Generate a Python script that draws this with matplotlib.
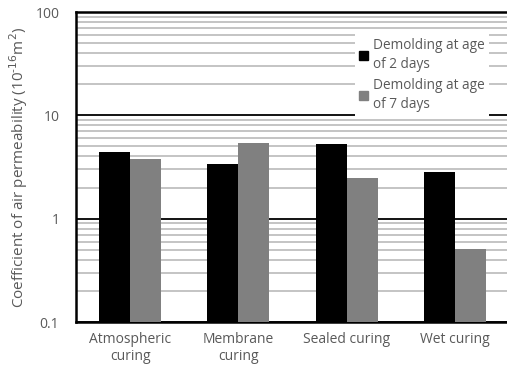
import matplotlib
matplotlib.use("Agg")
import matplotlib.pyplot as plt
import numpy as np
from matplotlib.patches import Rectangle
from matplotlib.ticker import LogLocator, FixedLocator, FixedFormatter, NullFormatter

categories = ["Atmospheric\ncuring", "Membrane\ncuring", "Sealed curing", "Wet curing"]
demold_2_days = [4.45, 3.4, 5.3, 2.85]
demold_7_days = [3.8, 5.4, 2.45, 0.51]
series_labels = ["Demolding at age\nof 2 days", "Demolding at age\nof 7 days"]
y_ticks = [0.1, 1, 10, 100]
y_tick_labels = ["0.1", "1", "10", "100"]

plt.rcParams["font.family"] = ["Open Sans", "DejaVu Sans"]
text_color = "#595959"

W, H = 507, 371
fig = plt.figure(figsize=(W / 100, H / 100), dpi=100)
left, right, top, bottom = 76, 509, 12, 322
ax = fig.add_axes([left / W, 1 - bottom / H, (right - left) / W, (bottom - top) / H])

x = np.arange(len(categories))
bw = 0.286
ax.bar(x - bw / 2, demold_2_days, width=bw, color="black", zorder=3)
ax.bar(x + bw / 2, demold_7_days, width=bw, color="#808080", zorder=3)

ax.set_yscale("log")
ax.set_ylim(0.1, 100)
ax.set_xlim(-0.5, len(categories) - 0.5)

ax.yaxis.set_major_locator(FixedLocator(y_ticks))
ax.yaxis.set_major_formatter(FixedFormatter(y_tick_labels))
ax.yaxis.set_minor_locator(LogLocator(base=10, subs=np.arange(2, 10)))
ax.yaxis.set_minor_formatter(NullFormatter())
ax.grid(which="minor", axis="y", color="#bfbfbf", linewidth=1.3, zorder=1)
ax.grid(which="major", axis="y", color="black", linewidth=1.3, zorder=1)

ax.tick_params(axis="y", which="both", length=0, labelsize=10, labelcolor=text_color, pad=12)
ax.tick_params(axis="x", length=0, labelsize=10, labelcolor=text_color, pad=7)
ax.set_xticks(x)
ax.set_xticklabels(categories, linespacing=1.25)

for side in ["left", "bottom", "top"]:
    ax.spines[side].set_linewidth(1.8)
    ax.spines[side].set_color("black")
ax.spines["right"].set_visible(False)

ax.set_ylabel("Coefficient of air permeability (10$^{\\text{-}16}$m$^{2}$)",
              fontsize=11, color=text_color, labelpad=4)

handles = [Rectangle((0, 0), 1, 1, color="black"), Rectangle((0, 0), 1, 1, color="#808080")]
leg = ax.legend(handles, series_labels, loc="upper left",
                bbox_to_anchor=((348 - left) / (right - left), 1 - (27 - top) / (bottom - top)),
                frameon=True, facecolor="white", edgecolor="none", framealpha=1,
                fancybox=False, fontsize=9.8, handlelength=0.65, handleheight=0.65,
                handletextpad=0.4, labelspacing=0.45, borderpad=0.3)
for t in leg.get_texts():
    t.set_color(text_color)
    t.set_linespacing(1.35)
leg.set_zorder(5)

fig.savefig("out.png", dpi=100)
